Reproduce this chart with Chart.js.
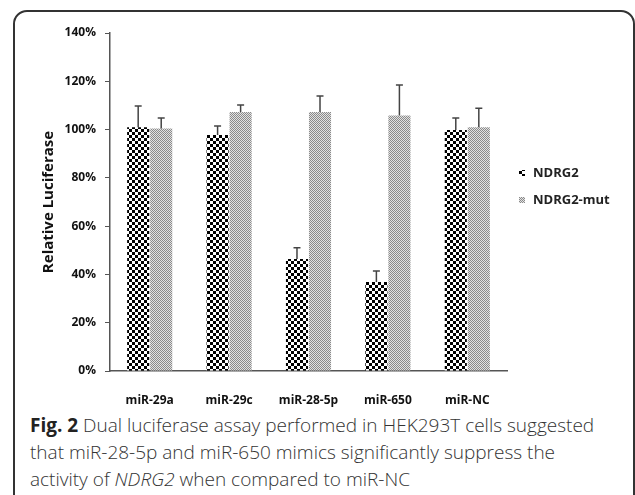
<!DOCTYPE html>
<html>
<head>
<meta charset="utf-8">
<script src="https://cdn.jsdelivr.net/npm/chart.js@4"></script>
<style>
  body { margin: 0; width: 635px; height: 495px; overflow: hidden; background: #fff; position: relative; }
  .frame { position: absolute; left: 13px; top: 10px; width: 618px; height: 520px; border: 2px solid #333; border-radius: 14px; }
  #grafico { position: absolute; left: 0; top: 0; }
  .legenda { position: absolute; left: 30px; top: 412px; width: 580px; margin: 0; font-family: "Open Sans", sans-serif; font-weight: 300; font-size: 19px; line-height: 27px; color: #333; }
  .legenda b { font-weight: bold; color: #222; }
</style>
</head>
<body>
<div class="frame"></div>
<canvas id="grafico" width="635" height="410"></canvas>
<p class="legenda"><b>Fig. 2</b> Dual luciferase assay performed in HEK293T cells suggested that miR-28-5p and miR-650 mimics significantly suppress the activity of <i>NDRG2</i> when compared to miR-NC</p>
<script>
const categorias = ['miR-29a', 'miR-29c', 'miR-28-5p', 'miR-650', 'miR-NC'];
const ndrg2 = [101, 97.8, 46.4, 36.9, 99.8];
const ndrg2Erro = [8.8, 3.7, 4.6, 4.5, 5];
const ndrg2Mut = [100.4, 107.3, 107.3, 105.8, 101];
const ndrg2MutErro = [4.4, 2.9, 6.6, 12.7, 7.8];
const marcasY = [0, 20, 40, 60, 80, 100, 120, 140];

function padraoXadrez() {
    const c = document.createElement('canvas');
    c.width = 6; c.height = 6;
    const ctx = c.getContext('2d');
    ctx.fillStyle = '#fff';
    ctx.fillRect(0, 0, 6, 6);
    ctx.fillStyle = '#000';
    ctx.fillRect(0, 0, 3, 3);
    ctx.fillRect(3, 3, 3, 3);
    return ctx.createPattern(c, 'repeat');
}

function padraoPontos() {
    const c = document.createElement('canvas');
    c.width = 2; c.height = 2;
    const ctx = c.getContext('2d');
    ctx.fillStyle = '#e2e2e2';
    ctx.fillRect(0, 0, 2, 2);
    ctx.fillStyle = '#8a8a8a';
    ctx.fillRect(0, 0, 1, 1);
    ctx.fillRect(1, 1, 1, 1);
    return ctx.createPattern(c, 'repeat');
}

const xadrez = padraoXadrez();
const pontos = padraoPontos();

// barras de erro (so para cima)
const barrasErro = {
    id: 'barrasErro',
    afterDatasetsDraw(chart) {
        const ctx = chart.ctx;
        const y = chart.scales.y;
        chart.data.datasets.forEach((dataset, i) => {
            const meta = chart.getDatasetMeta(i);
            meta.data.forEach((barra, j) => {
                const topo = y.getPixelForValue(dataset.data[j] + dataset.erros[j]);
                ctx.save();
                ctx.strokeStyle = '#444';
                ctx.lineWidth = 1.5;
                ctx.beginPath();
                ctx.moveTo(barra.x, barra.y);
                ctx.lineTo(barra.x, topo);
                ctx.moveTo(barra.x - 3.5, topo);
                ctx.lineTo(barra.x + 3.5, topo);
                ctx.stroke();
                ctx.restore();
            });
        });
    }
};

// legenda a direita
const legendaDireita = {
    id: 'legendaDireita',
    afterDraw(chart) {
        const ctx = chart.ctx;
        const posY = [173, 200];
        chart.data.datasets.forEach((dataset, i) => {
            ctx.save();
            ctx.fillStyle = dataset.backgroundColor;
            ctx.fillRect(519, posY[i] - 3, 6, 6);
            ctx.fillStyle = '#222';
            ctx.font = 'bold 13px "Open Sans"';
            ctx.textBaseline = 'middle';
            ctx.fillText(dataset.label, 533, posY[i]);
            ctx.restore();
        });
    }
};

const grafico = new Chart(document.getElementById('grafico'), {
    type: 'bar',
    data: {
        labels: categorias,
        datasets: [{
            label: 'NDRG2',
            data: ndrg2,
            erros: ndrg2Erro,
            backgroundColor: xadrez
        }, {
            label: 'NDRG2-mut',
            data: ndrg2Mut,
            erros: ndrg2MutErro,
            backgroundColor: pontos
        }]
    },
    options: {
        responsive: false,
        animation: false,
        layout: { padding: { top: 33, right: 128, left: 0, bottom: 0 } },
        categoryPercentage: 0.58,
        barPercentage: 0.96,
        plugins: {
            legend: { display: false },
            tooltip: { enabled: false }
        },
        scales: {
            x: {
                grid: { display: false },
                border: { color: '#555', width: 1.5 },
                ticks: {
                    padding: 14,
                    color: '#111',
                    font: { family: 'Open Sans', size: 12, weight: 'bold' }
                },
                afterFit(scale) { scale.height = 39; }
            },
            y: {
                min: 0,
                max: 140,
                afterBuildTicks(scale) { scale.ticks = marcasY.map(v => ({ value: v })); },
                grid: { drawOnChartArea: false, drawTicks: true, tickLength: 5, color: '#555' },
                border: { color: '#555', width: 1.5 },
                ticks: {
                    padding: 9,
                    color: '#111',
                    font: { family: 'Open Sans', size: 12, weight: 'bold' },
                    callback: v => v + '%'
                },
                title: {
                    display: true,
                    text: 'Relative Luciferase',
                    color: '#111',
                    padding: { top: 40, bottom: 0 },
                    font: { family: 'Open Sans', size: 15, weight: 'bold' }
                },
                afterFit(scale) { scale.width = 110; }
            }
        }
    },
    plugins: [barrasErro, legendaDireita]
});
</script>
</body>
</html>
